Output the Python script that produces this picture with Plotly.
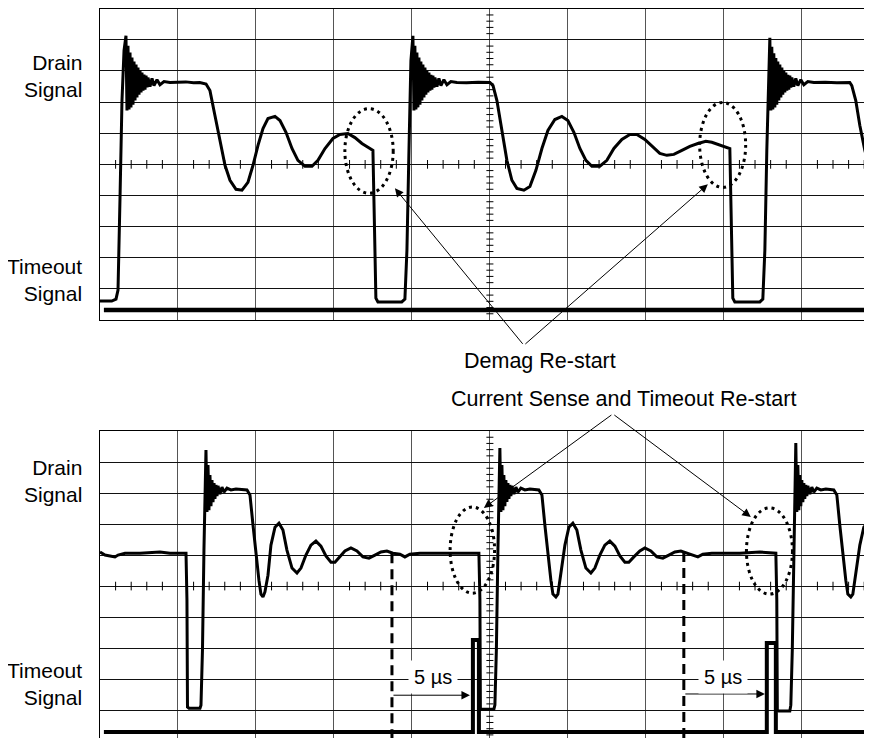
import plotly.graph_objects as go

# ---------------- data (time in screen divisions, amplitude in divisions) -------------
# Top scope: drain waveform, three switching cycles
top_c1_t = [0.00, 0.15, 0.205, 0.231, 0.256, 0.282, 0.308, 0.333,
            0.346, 0.359, 0.372, 0.385, 0.397, 0.410, 0.423, 0.436, 0.449, 0.462,
            0.474, 0.487, 0.500, 0.513, 0.526, 0.538, 0.551, 0.564, 0.577, 0.590,
            0.603, 0.615, 0.641, 0.667, 0.692, 0.731, 0.769, 0.821, 0.897,
            1.10, 1.20, 1.28, 1.36, 1.41, 1.474, 1.538, 1.603, 1.667, 1.744, 1.821, 1.897,
            1.962, 2.026, 2.090, 2.154, 2.244, 2.308, 2.385, 2.462, 2.538, 2.628, 2.718,
            2.795, 2.885, 2.987, 3.077, 3.179, 3.269, 3.359, 3.462, 3.500,
            3.513, 3.526, 3.538, 3.564, 3.718, 3.87, 3.91, 3.936, 3.962, 3.987]
top_c1_v = [-4.39, -4.39, -4.33, -4.04, -1.15, 2.05, 3.65, 4.13,
            1.73, 3.81, 1.76, 3.59, 1.83, 3.43, 1.92, 3.30, 2.05, 3.21,
            2.15, 3.11, 2.24, 3.01, 2.31, 2.95, 2.37, 2.88, 2.40, 2.85,
            2.47, 2.79, 2.50, 2.76, 2.53, 2.72, 2.56, 2.66, 2.63,
            2.65, 2.62, 2.63, 2.58, 2.37, 1.57, 0.77, -0.03, -0.51, -0.80, -0.83, -0.58,
            -0.03, 0.61, 1.15, 1.47, 1.54, 1.41, 1.03, 0.51, 0.13, -0.06, -0.06,
            0.13, 0.51, 0.83, 0.96, 0.99, 0.86, 0.67, 0.51, 0.45,
            -1.15, -3.08, -4.30, -4.42, -4.42, -4.42, -4.33, -2.76, 0.45, 3.33]

top_c2_t = [4.013, 4.026, 4.038, 4.051, 4.064, 4.077, 4.090, 4.103, 4.115, 4.128,
            4.141, 4.154, 4.167, 4.179, 4.192, 4.205, 4.218, 4.231, 4.244, 4.256,
            4.269, 4.282, 4.295, 4.321, 4.346, 4.372, 4.410, 4.449, 4.500, 4.577,
            4.70, 4.85, 5.00, 5.04, 5.09, 5.154, 5.218, 5.282, 5.346, 5.436, 5.513,
            5.590, 5.667, 5.744, 5.833, 5.923, 6.000, 6.077, 6.154, 6.231, 6.308,
            6.410, 6.500, 6.590, 6.692, 6.795, 6.885, 6.987, 7.077, 7.179, 7.269,
            7.359, 7.462, 7.564, 7.667, 7.769, 7.846, 7.949, 8.077,
            8.090, 8.103, 8.115, 8.141, 8.30, 8.462, 8.50, 8.526, 8.551, 8.577]
top_c2_v = [4.13, 1.73, 3.81, 1.76, 3.59, 1.83, 3.43, 1.92, 3.30, 2.05,
            3.21, 2.15, 3.11, 2.24, 3.01, 2.31, 2.95, 2.37, 2.88, 2.40,
            2.85, 2.47, 2.79, 2.50, 2.76, 2.53, 2.72, 2.56, 2.66, 2.63,
            2.62, 2.64, 2.63, 2.53, 2.05, 1.09, 0.13, -0.51, -0.77, -0.83, -0.71,
            -0.19, 0.51, 1.09, 1.44, 1.54, 1.41, 1.03, 0.51, 0.13, -0.06,
            -0.06, 0.13, 0.51, 0.80, 0.96, 0.96, 0.80, 0.58, 0.35, 0.29,
            0.32, 0.45, 0.58, 0.67, 0.74, 0.71, 0.61, 0.51,
            -1.15, -3.08, -4.30, -4.42, -4.42, -4.42, -4.33, -2.76, 0.45, 3.33]

top_c3_t = [8.590, 8.603, 8.615, 8.628, 8.641, 8.654, 8.667, 8.679, 8.692, 8.705,
            8.718, 8.731, 8.744, 8.756, 8.769, 8.782, 8.795, 8.808, 8.821, 8.833,
            8.846, 8.859, 8.872, 8.897, 8.923, 8.949, 8.987, 9.026, 9.077, 9.154,
            9.30, 9.45, 9.615, 9.641, 9.692, 9.744, 9.808, 9.872, 9.90]
top_c3_v = [4.07, 1.73, 3.78, 1.76, 3.57, 1.83, 3.42, 1.92, 3.30, 2.05,
            3.21, 2.15, 3.11, 2.24, 3.01, 2.31, 2.95, 2.37, 2.88, 2.40,
            2.85, 2.47, 2.79, 2.50, 2.76, 2.53, 2.72, 2.56, 2.66, 2.63,
            2.64, 2.62, 2.63, 2.53, 2.05, 1.25, 0.45, -0.13, -0.35]

# Top scope: timeout signal (flat)
top_to_t = [0.05, 9.90]
top_to_v = [-4.68, -4.68]

# Bottom scope: drain waveform
bot_c1_t = [0.00, 0.064, 0.128, 0.192, 0.231, 0.321, 0.513, 0.769, 0.897, 1.103,
            1.115, 1.122, 1.141, 1.282, 1.295, 1.314, 1.333, 1.346, 1.359,
            1.372, 1.385, 1.397, 1.410, 1.423, 1.436, 1.449, 1.462, 1.474, 1.487,
            1.500, 1.513, 1.538, 1.564, 1.590, 1.628, 1.679, 1.744,
            1.885, 1.923, 1.962, 2.000, 2.038, 2.064, 2.090, 2.115, 2.154, 2.192,
            2.244, 2.295, 2.346, 2.397, 2.462, 2.526, 2.577, 2.641, 2.705, 2.769,
            2.833, 2.897, 2.962, 3.013, 3.077, 3.141, 3.218, 3.295, 3.372, 3.449,
            3.526, 3.603, 3.679, 3.756, 3.846, 3.910, 3.974, 4.103, 4.359, 4.615,
            4.859, 4.872, 4.878, 4.897, 5.051, 5.064, 5.083, 5.103, 5.115]
bot_c1_v = [1.10, 1.00, 0.97, 0.94, 1.00, 1.06, 1.06, 1.10, 1.06, 1.06,
            -0.45, -3.90, -3.94, -3.94, -3.84, -2.06, 1.16, 3.42, 4.39,
            2.39, 3.90, 2.45, 3.58, 2.58, 3.42, 2.71, 3.32, 2.81, 3.26,
            2.90, 3.23, 2.97, 3.19, 3.03, 3.16, 3.10, 3.13,
            3.10, 2.94, 1.97, 1.00, 0.19, -0.26, -0.35, -0.19, 0.35, 1.32,
            1.90, 2.03, 1.81, 1.16, 0.58, 0.42, 0.58, 1.00, 1.32, 1.45,
            1.29, 0.97, 0.77, 0.77, 0.94, 1.13, 1.23, 1.13, 0.94, 0.90,
            1.00, 1.10, 1.13, 1.06, 1.03, 0.94, 1.03, 1.06, 1.06, 1.06,
            1.06, -0.45, -3.97, -3.97, -3.97, -3.84, -2.06, 1.16, 3.42]

bot_c2_t = [5.128, 5.141, 5.154, 5.167, 5.179, 5.192, 5.205, 5.218, 5.231, 5.244,
            5.256, 5.269, 5.282, 5.308, 5.333, 5.359, 5.397, 5.449, 5.513,
            5.628, 5.667, 5.705, 5.744, 5.782, 5.808, 5.846, 5.872, 5.910, 5.962,
            6.013, 6.064, 6.115, 6.167, 6.231, 6.295, 6.346, 6.410, 6.474, 6.538,
            6.603, 6.667, 6.731, 6.782, 6.846, 6.923, 6.987, 7.064, 7.141, 7.218,
            7.295, 7.372, 7.449, 7.526, 7.603, 7.667, 7.731, 7.846, 8.205, 8.462,
            8.667, 8.679, 8.686, 8.705, 8.846, 8.859, 8.878, 8.897, 8.910]
bot_c2_v = [4.45, 2.39, 3.90, 2.45, 3.58, 2.58, 3.42, 2.71, 3.32, 2.81,
            3.26, 2.90, 3.23, 2.97, 3.19, 3.03, 3.16, 3.10, 3.13,
            3.10, 2.94, 1.97, 1.00, 0.19, -0.26, -0.35, -0.26, 0.35, 1.32,
            1.90, 2.03, 1.81, 1.16, 0.58, 0.42, 0.58, 1.00, 1.32, 1.45,
            1.29, 0.97, 0.77, 0.77, 0.94, 1.13, 1.23, 1.13, 0.94, 0.90,
            1.00, 1.10, 1.13, 1.06, 1.00, 0.94, 1.03, 1.06, 1.06, 1.10,
            1.06, -0.45, -4.00, -4.03, -4.03, -3.84, -2.06, 1.16, 3.42]

bot_c3_t = [8.923, 8.936, 8.949, 8.962, 8.974, 8.987, 9.000, 9.013, 9.026, 9.038,
            9.051, 9.064, 9.077, 9.103, 9.128, 9.154, 9.192, 9.244, 9.308,
            9.410, 9.449, 9.487, 9.526, 9.564, 9.590, 9.628, 9.654, 9.692, 9.744,
            9.795, 9.846, 9.90]
bot_c3_v = [4.61, 2.39, 3.90, 2.45, 3.58, 2.58, 3.42, 2.71, 3.32, 2.81,
            3.26, 2.90, 3.23, 2.97, 3.19, 3.03, 3.16, 3.10, 3.13,
            3.10, 2.94, 1.97, 1.00, 0.19, -0.26, -0.35, -0.26, 0.35, 1.32,
            1.90, 2.03, 1.90]

# Bottom scope: timeout signal with two pulses
bot_to_t = [0.05, 4.782, 4.782, 4.859, 4.859, 8.551, 8.551, 8.667, 8.667, 9.90]
bot_to_v = [-4.71, -4.71, -1.74, -1.74, -4.71, -4.71, -1.84, -1.84, -4.71, -4.71]

# 5 us timing markers (bottom scope)
marker_t = [3.744, 7.487]
marker_top = [1.06, 1.10]
marker_tip_t = [4.744, 8.526]
marker_arrow_v = [-3.52, -3.48]
marker_label_t = [4.269, 7.987]
marker_label_v = [-2.94, -2.94]
marker_label = "5 \u00b5s"

# Dotted highlight ellipses (x0, y0, x1, y1)
top_ellipses = [(3.14, -0.93, 3.76, 1.79), (7.69, -0.74, 8.28, 1.99)]
bot_ellipses = [(4.49, -0.23, 5.06, 2.55), (8.29, -0.26, 8.88, 2.52)]

# Callout arrow tips (data coords) and tail offsets (px)
demag_tips = [(3.782, -0.77, 129, 157), (7.795, -0.64, -184, 161)]
cs_tips = [(4.923, 2.52, 129, -94), (8.346, 2.23, -138, -103)]

FONT = "Liberation Sans, Arial, Helvetica, sans-serif"
# page body has an 8px margin, so the figure is sized to end exactly at the window edge
W, H = 864, 730

fig = go.Figure()

def add_line(t, v, xa, ya, width, dash=None):
    fig.add_trace(go.Scatter(x=t, y=v, mode="lines", xaxis=xa, yaxis=ya,
                             line=dict(color="black", width=width, dash=dash),
                             hoverinfo="skip", showlegend=False))

# minor ticks on centre axes (graticule decoration)
def graticule_ticks(xa, ya, ylo, yhi):
    xs, ys = [], []
    for k in range(1, 50):
        if k % 5 == 0:
            continue
        x = k * 0.2
        xs += [x, x, None]
        ys += [-0.14, 0.14, None]
    k = int(ylo / 0.2) - 1
    while k * 0.2 <= yhi + 1e-9:
        y = k * 0.2
        if y >= ylo - 1e-9 and abs(y - round(y)) > 1e-6:
            xs += [4.955, 5.045, None]
            ys += [y, y, None]
        k += 1
    fig.add_trace(go.Scatter(x=xs, y=ys, mode="lines", xaxis=xa, yaxis=ya,
                             line=dict(color="black", width=1),
                             hoverinfo="skip", showlegend=False))

graticule_ticks("x", "y", -5, 5)
graticule_ticks("x2", "y2", -4.9, 5)

# top scope traces
add_line(top_to_t, top_to_v, "x", "y", 4.5)
add_line(top_c1_t + top_c2_t + top_c3_t, top_c1_v + top_c2_v + top_c3_v, "x", "y", 3)

# bottom scope traces
add_line(bot_to_t, bot_to_v, "x2", "y2", 4)
for t, v in zip(marker_t, marker_top):
    add_line([t, t], [v, -4.9], "x2", "y2", 3, dash="10px,6px")
add_line(bot_c1_t + bot_c2_t + bot_c3_t, bot_c1_v + bot_c2_v + bot_c3_v, "x2", "y2", 3)

# ellipses
shapes = []
for (x0, y0, x1, y1) in top_ellipses:
    shapes.append(dict(type="circle", xref="x", yref="y", x0=x0, y0=y0, x1=x1, y1=y1,
                       line=dict(color="black", width=3, dash="3px,4px"), layer="above"))
for (x0, y0, x1, y1) in bot_ellipses:
    shapes.append(dict(type="circle", xref="x2", yref="y2", x0=x0, y0=y0, x1=x1, y1=y1,
                       line=dict(color="black", width=3, dash="3px,4px"), layer="above"))

ann = []
lab_font = dict(family=FONT, size=21, color="black")
call_font = dict(family=FONT, size=21.5, color="black")
mark_font = dict(family=FONT, size=20, color="black")
lab_x = -16 / 772
for txt, yy in [("Drain<br>Signal", 0.9062), ("Timeout<br>Signal", 0.6274),
                ("Drain<br>Signal", 0.3514), ("Timeout<br>Signal", 0.0733)]:
    ann.append(dict(text=txt, xref="paper", yref="paper", x=lab_x, y=yy,
                    xanchor="right", yanchor="middle", align="right",
                    showarrow=False, font=lab_font))

ann.append(dict(text="Demag Re-start", xref="paper", yref="paper", x=0.5699, y=0.5164,
                xanchor="center", yanchor="middle", showarrow=False, font=call_font))
ann.append(dict(text="Current Sense and Timeout Re-start", xref="paper", yref="paper",
                x=0.6775, y=0.4644, xanchor="center", yanchor="middle",
                showarrow=False, font=call_font))

for (x, y, ax, ay) in demag_tips:
    ann.append(dict(text="", x=x, y=y, xref="x", yref="y", ax=ax, ay=ay,
                    showarrow=True, arrowhead=2, arrowsize=1.7, arrowwidth=1,
                    arrowcolor="black", standoff=0))
for (x, y, ax, ay) in cs_tips:
    ann.append(dict(text="", x=x, y=y, xref="x2", yref="y2", ax=ax, ay=ay,
                    showarrow=True, arrowhead=2, arrowsize=1.7, arrowwidth=1,
                    arrowcolor="black", standoff=0))

for t0, t1, v in zip(marker_t, marker_tip_t, marker_arrow_v):
    ann.append(dict(text="", x=t1, y=v, xref="x2", yref="y2", ax=t0, ay=v,
                    axref="x2", ayref="y2", showarrow=True, arrowhead=2,
                    arrowsize=1.7, arrowwidth=1, arrowcolor="black", standoff=0))
for t, v in zip(marker_label_t, marker_label_v):
    ann.append(dict(text=marker_label, x=t, y=v, xref="x2", yref="y2",
                    showarrow=False, font=mark_font, bgcolor="white", borderpad=5))

axis_common = dict(showticklabels=False, ticks="", zeroline=False, dtick=1, tick0=0,
                   showline=True, linecolor="black", linewidth=1)

fig.update_layout(
    width=W, height=H,
    margin=dict(l=92, r=0, t=0, b=0),
    paper_bgcolor="white", plot_bgcolor="white",
    showlegend=False,
    shapes=shapes, annotations=ann,
    xaxis=dict(domain=[0, 1], range=[0, 9.9], anchor="y", mirror=True,
               showgrid=True, gridcolor="#555555", gridwidth=1, **axis_common),
    yaxis=dict(domain=[0.5726, 0.9990], range=[-5, 5], anchor="x", mirror=False,
               showgrid=True, gridcolor="#111111", gridwidth=1, **axis_common),
    xaxis2=dict(domain=[0, 1], range=[0, 9.9], anchor="y2", side="top", mirror=False,
                showgrid=True, gridcolor="#555555", gridwidth=1, **axis_common),
    yaxis2=dict(domain=[0, 0.4205], range=[-4.9, 5], anchor="x2", mirror=False,
                showgrid=True, gridcolor="#111111", gridwidth=1, **axis_common),
)

fig.write_html("out.html")
